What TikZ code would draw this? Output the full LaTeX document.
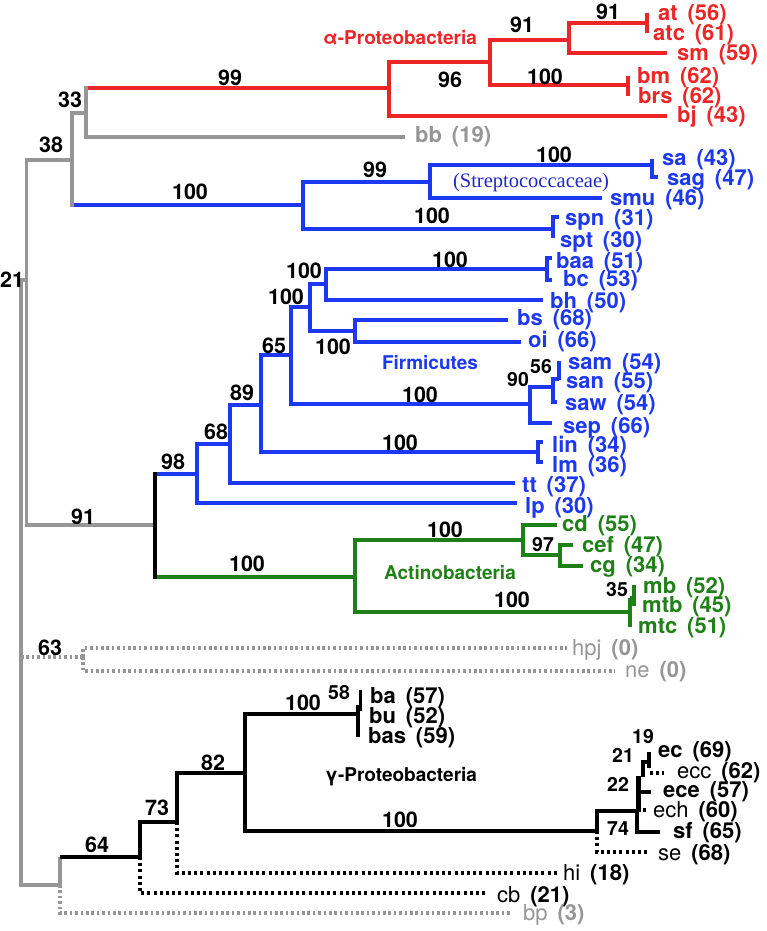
\documentclass[tikz,border=0pt]{standalone}
\usepackage{fontspec}
\setmainfont{TeX Gyre Heros}
\newfontfamily\cladeserif{Liberation Serif}
\usepackage{xcolor}
\usetikzlibrary{calc}
\definecolor{alphared}{RGB}{236,38,38}
\definecolor{firmblue}{RGB}{28,56,240}
\definecolor{strepblue}{RGB}{32,40,196}
\definecolor{actgreen}{RGB}{32,128,24}
\definecolor{outgray}{RGB}{150,150,150}

\begin{document}
\begin{tikzpicture}[
  x=1pt, y=-1pt,
  every node/.style={inner sep=0pt},
  br/.style={line width=3.2pt},
  rbr/.style={br, alphared},
  bbr/.style={br, firmblue},
  gbr/.style={br, actgreen},
  ybr/.style={br, outgray},
  kbr/.style={br, black},
  ydot/.style={ybr, dash pattern=on 2.6pt off 2.8pt},
  kdot/.style={kbr, dash pattern=on 3pt off 3.2pt},
  boot/.style={font=\bfseries\fontsize{21.5}{21.5}\selectfont},
  bootsm/.style={font=\bfseries\fontsize{19.5}{19.5}\selectfont},
  leaf/.style={anchor=west, font=\bfseries\fontsize{22}{22}\selectfont},
  clade/.style={font=\bfseries\fontsize{19}{19}\selectfont},
]
  \useasboundingbox (0,0) rectangle (767,931);

  % Root and outgroups
  \coordinate (root) at (21,657);
  \coordinate (n21) at (26.5,280);
  \coordinate (n38) at (72,160);
  \coordinate (n33) at (86,113);
  \coordinate (bb) at (405,137);
  \coordinate (n63) at (83,657);
  \coordinate (hpj) at (567,648);
  \coordinate (ne) at (615,671);
  \coordinate (nbot) at (60,885);
  \coordinate (bp) at (512,913);
  \coordinate (n98) at (155,525);

  % alpha-Proteobacteria
  \coordinate (a99) at (389,88);
  \coordinate (a96) at (490,62);
  \coordinate (bj) at (667,116);
  \coordinate (a91) at (569,40);
  \coordinate (bmbrs) at (628,85);
  \coordinate (atatc) at (647,23);
  \coordinate (sm) at (667,53);

  % Streptococcaceae
  \coordinate (s99) at (303,205);
  \coordinate (s100) at (430,182);
  \coordinate (sasag) at (652,165);
  \coordinate (smu) at (602,198);
  \coordinate (spnspt) at (553,229);

  % Firmicutes
  \coordinate (f68) at (197,474);
  \coordinate (lp) at (517,503);
  \coordinate (f89) at (230,444);
  \coordinate (tt) at (515,483);
  \coordinate (f65) at (261,405);
  \coordinate (linlm) at (538,452);
  \coordinate (f100a) at (291,355);
  \coordinate (f90) at (530,404);
  \coordinate (f100b) at (310,307);
  \coordinate (f100c) at (326,284);
  \coordinate (bsoi) at (355,331);
  \coordinate (baabc) at (547,269);
  \coordinate (bh) at (543,300);
  \coordinate (bs) at (508,320);
  \coordinate (oi) at (521,342);
  \coordinate (f56) at (553,387);
  \coordinate (sep) at (552,423);
  \coordinate (samsan) at (559,379);
  \coordinate (saw) at (557,402);

  % Actinobacteria
  \coordinate (act) at (355,577);
  \coordinate (c100) at (523,540);
  \coordinate (mtick) at (630,612);
  \coordinate (cd) at (557,525);
  \coordinate (c97) at (560,555);
  \coordinate (cef) at (573,545);
  \coordinate (cg) at (583,566);

  % gamma-Proteobacteria
  \coordinate (g64) at (140,857);
  \coordinate (cb) at (487,893);
  \coordinate (g73) at (177,822);
  \coordinate (hi) at (557,873);
  \coordinate (g82) at (245,773);
  \coordinate (batick) at (358,714);
  \coordinate (g74) at (597,831);
  \coordinate (se) at (647,852);
  \coordinate (g22) at (637,811);
  \coordinate (sf) at (660,832);

  % Branches: outgroups
  \draw[ydot] (root) -- (n63);
  \draw[ydot] (n63) |- (hpj);
  \draw[ydot] (n63) |- (ne);
  \draw[ydot] (nbot) |- (bp);
  \draw[ybr] (root) |- (n21);
  \draw[ybr] (root) |- (nbot);
  \draw[ybr] (n21) |- (n38);
  \draw[ybr] (n21) |- (n98);
  \draw[ybr] (n38) |- (n33);
  \draw[bbr] (n38 |- s99) -- (s99);
  \draw[ybr, line cap=rect] (n38 |- n33) -- (n38 |- s99);
  \draw[rbr] (n33 |- a99) -- (a99);
  \draw[ybr] (n33 |- bb) -- (bb);
  \draw[ybr, line cap=rect] (n33 |- a99) -- (n33 |- bb);

  % Branches: alpha
  \draw[rbr] (a99) |- (a96);
  \draw[rbr] (a99) |- (bj);
  \draw[rbr] (a96) |- (a91);
  \draw[rbr] (a96) |- (bmbrs);
  \draw[rbr] (a91) |- (atatc);
  \draw[rbr] (a91) |- (sm);
  \draw[rbr] (atatc) ++(0,-10) -- ++(0,20);
  \draw[rbr] (bmbrs) ++(0,-9) -- ++(0,20);

  % Branches: Streptococcaceae
  \draw[bbr] (s99) |- (s100);
  \draw[bbr] (s99) |- (spnspt);
  \draw[bbr] (s100) |- (sasag);
  \draw[bbr] (s100) |- (smu);
  \draw[bbr] (sasag) ++(0,-6) -- ++(0,18) -- ++(6,0);
  \draw[bbr] (spnspt) ++(6,-12) -- ++(-6,0) -- ++(0,21);

  % Branches: Firmicutes / Actinobacteria split
  \draw[bbr] (n98 |- f68) -- (f68);
  \draw[gbr] (n98 |- act) -- (act);
  \draw[kbr, line cap=rect] (n98 |- f68) -- (n98 |- act);

  % Branches: Firmicutes
  \draw[bbr] (f68) |- (f89);
  \draw[bbr] (f68) |- (lp);
  \draw[bbr] (f89) |- (f65);
  \draw[bbr] (f89) |- (tt);
  \draw[bbr] (f65) |- (f100a);
  \draw[bbr] (f65) |- (linlm);
  \draw[bbr] (f100a) |- (f100b);
  \draw[bbr] (f100a) |- (f90);
  \draw[bbr] (f100b) |- (f100c);
  \draw[bbr] (f100b) |- (bsoi);
  \draw[bbr] (f100c) |- (baabc);
  \draw[bbr] (f100c) |- (bh);
  \draw[bbr] (bsoi) |- (bs);
  \draw[bbr] (bsoi) |- (oi);
  \draw[bbr] (f90) |- (f56);
  \draw[bbr] (f90) |- (sep);
  \draw[bbr] (f56) |- (samsan);
  \draw[bbr] (f56) |- (saw);
  \draw[bbr] (samsan) ++(0,1) -- ++(0,-19);
  \draw[bbr] (baabc) ++(5,-11) -- ++(-5,0) -- ++(0,22) -- ++(5,0);
  \draw[bbr] (linlm) ++(5,-10) -- ++(-5,0) -- ++(0,20) -- ++(5,0);

  % Branches: Actinobacteria
  \draw[gbr] (act) |- (c100);
  \draw[gbr] (act) |- (mtick);
  \draw[gbr] (c100) |- (cd);
  \draw[gbr] (c100) |- (c97);
  \draw[gbr] (c97) |- (cef);
  \draw[gbr] (c97) |- (cg);
  \draw[gbr] (mtick) ++(0,-14) -- ++(0,29);
  \draw[gbr] (mtick) ++(0,-14) -- ++(4,0);
  \draw[gbr] (mtick) ++(4,-27) -- ++(0,21);

  % Branches: gamma
  \draw[ybr] (nbot) -- (nbot |- g64);
  \draw[kbr] (nbot |- g64) -- (g64);
  \draw[kdot] (g64) |- (cb);
  \draw[kbr] (g64) |- (g73);
  \draw[kdot] (g73) |- (hi);
  \draw[kbr] (g73) |- (g82);
  \draw[kbr] (g82) |- (batick);
  \draw[kbr] (g82) |- (g74);
  \draw[kbr] (batick) ++(0,-9) -- ++(0,32);
  \draw[kbr] (batick) ++(2.5,-24) -- ++(0,21);
  \draw[kdot] (g74) |- (se);
  \draw[kbr] (g74) |- (g22);
  \draw[kbr] (g22) |- (sf);
  \draw[kbr, line width=5.5pt] (g22) ++(1.5,1) -- ++(0,-36);
  \draw[kbr] (g22) ++(2,-19) -- ++(12,0);
  \draw[kbr] (g22) ++(6,-1) -- ++(3,0);
  \draw[kbr] (g22) ++(6,-34) -- ++(0,-15) -- ++(6,0);
  \draw[kbr] (g22) ++(12,-59) -- ++(0,16);
  \draw[kdot] (g22) ++(13,-38) -- ++(14,0);

  % Bootstrap values
  \node[boot] (bsA91b) at (608,12) {91};
  \node[boot] (bsA91a) at (522,25) {91};
  \node[boot] (bsA96) at (450,80) {96};
  \node[boot] (bsA100) at (545,77) {100};
  \node[boot] (bsA99) at (230,78) {99};
  \node[boot] (bs33) at (70,100) {33};
  \node[boot] (bs38) at (51,145) {38};
  \node[boot] (bs21) at (12,280) {21};
  \node[boot] (bsS100a) at (190,192) {100};
  \node[boot] (bsS99) at (375,170) {99};
  \node[boot] (bsS100b) at (554,155) {100};
  \node[boot] (bsS100c) at (432,216) {100};
  \node[boot] (bsF100a) at (304,271) {100};
  \node[boot] (bsF100b) at (286,297) {100};
  \node[boot] (bsF100c) at (450,260) {100};
  \node[boot] (bsF100d) at (333,347) {100};
  \node[boot] (bsF65) at (274,346) {65};
  \node[boot] (bsF89) at (242,393) {89};
  \node[boot] (bsF68) at (216,432) {68};
  \node[boot] (bsF98) at (173,462) {98};
  \node[boot] (bs91) at (83,517) {91};
  \node[boot] (bsF100e) at (420,395) {100};
  \node[bootsm] (bsF90) at (518,380) {90};
  \node[bootsm] (bsF56) at (541,367) {56};
  \node[boot] (bsF100f) at (400,443) {100};
  \node[boot] (bsC100a) at (247,564) {100};
  \node[boot] (bsC100b) at (445,530) {100};
  \node[bootsm] (bsC97) at (543,545) {97};
  \node[boot] (bsC100c) at (512,600) {100};
  \node[bootsm] (bsC35) at (617,590) {35};
  \node[boot] (bs63) at (50,648) {63};
  \node[boot] (bsG64) at (97,845) {64};
  \node[boot] (bsG73) at (157,808) {73};
  \node[boot] (bsG82) at (213,763) {82};
  \node[boot] (bsG100a) at (303,703) {100};
  \node[bootsm] (bsG58) at (339,693) {58};
  \node[boot] (bsG100b) at (400,820) {100};
  \node[bootsm] (bsG74) at (618,829) {74};
  \node[bootsm] (bsG22) at (618,784) {22};
  \node[bootsm] (bsG21) at (623,755) {21};
  \node[bootsm] (bsG19) at (643,737) {19};

  % Clade names
  \node[clade, alphared] (alpha) at (400,38) {α-Proteobacteria};
  \node[strepblue, font=\cladeserif\fontsize{20.5}{20.5}\selectfont] (strep) at (531,183) {(Streptococcaceae)};
  \node[clade, firmblue] (firm) at (430,363) {Firmicutes};
  \node[clade, actgreen] (actino) at (450,573) {Actinobacteria};
  \node[clade, black] (gamma) at (401,777) {γ-Proteobacteria};

  % Leaf labels
  \node[leaf, alphared] (lat) at (658,15) {at\hspace{.45em}(56)};
  \node[leaf, alphared] (latc) at (653,35) {atc\hspace{.45em}(61)};
  \node[leaf, alphared] (lsm) at (677,55) {sm\hspace{.45em}(59)};
  \node[leaf, alphared] (lbm) at (637,78) {bm\hspace{.45em}(62)};
  \node[leaf, alphared] (lbrs) at (638,98) {brs\hspace{.45em}(62)};
  \node[leaf, alphared] (lbj) at (677,117) {bj\hspace{.45em}(43)};
  \node[leaf, outgray] (lbb) at (415,137) {bb\hspace{.45em}(19)};
  \node[leaf, firmblue] (lsa) at (662,160) {sa\hspace{.45em}(43)};
  \node[leaf, firmblue] (lsag) at (667,180) {sag\hspace{.45em}(47)};
  \node[leaf, firmblue] (lsmu) at (610,200) {smu\hspace{.45em}(46)};
  \node[leaf, firmblue] (lspn) at (565,220) {spn\hspace{.45em}(31)};
  \node[leaf, firmblue] (lspt) at (560,242) {spt\hspace{.45em}(30)};
  \node[leaf, firmblue] (lbaa) at (556,263) {baa\hspace{.45em}(51)};
  \node[leaf, firmblue] (lbc) at (563,281) {bc\hspace{.45em}(53)};
  \node[leaf, firmblue] (lbh) at (550,303) {bh\hspace{.45em}(50)};
  \node[leaf, firmblue] (lbs) at (517,320) {bs\hspace{.45em}(68)};
  \node[leaf, firmblue] (loi) at (528,342) {oi\hspace{.45em}(66)};
  \node[leaf, firmblue] (lsam) at (568,364) {sam\hspace{.45em}(54)};
  \node[leaf, firmblue] (lsan) at (566,383) {san\hspace{.45em}(55)};
  \node[leaf, firmblue] (lsaw) at (565,405) {saw\hspace{.45em}(54)};
  \node[leaf, firmblue] (lsep) at (563,428) {sep\hspace{.45em}(66)};
  \node[leaf, firmblue] (llin) at (552,447) {lin\hspace{.45em}(34)};
  \node[leaf, firmblue] (llm) at (552,467) {lm\hspace{.45em}(36)};
  \node[leaf, firmblue] (ltt) at (522,487) {tt\hspace{.45em}(37)};
  \node[leaf, firmblue] (llp) at (525,508) {lp\hspace{.45em}(30)};
  \node[leaf, actgreen] (lcd) at (562,526) {cd\hspace{.45em}(55)};
  \node[leaf, actgreen] (lcef) at (582,547) {cef\hspace{.45em}(47)};
  \node[leaf, actgreen] (lcg) at (590,567) {cg\hspace{.45em}(34)};
  \node[leaf, actgreen] (lmb) at (643,588) {mb\hspace{.45em}(52)};
  \node[leaf, actgreen] (lmtb) at (642,607) {mtb\hspace{.45em}(45)};
  \node[leaf, actgreen] (lmtc) at (638,628) {mtc\hspace{.45em}(51)};
  \node[leaf, outgray] (lhpj) at (572,650) {{\mdseries hpj}\hspace{.45em}(0)};
  \node[leaf, outgray] (lne) at (625,672) {{\mdseries ne}\hspace{.45em}(0)};
  \node[leaf] (lba) at (370,698) {ba\hspace{.45em}(57)};
  \node[leaf] (lbu) at (369,718) {bu\hspace{.45em}(52)};
  \node[leaf] (lbas) at (368,738) {bas\hspace{.45em}(59)};
  \node[leaf] (lec) at (658,752) {ec\hspace{.45em}(69)};
  \node[leaf] (lecc) at (677,773) {{\mdseries ecc}\hspace{.45em}(62)};
  \node[leaf] (lece) at (663,792) {ece\hspace{.45em}(57)};
  \node[leaf] (lech) at (653,812) {{\mdseries ech}\hspace{.45em}(60)};
  \node[leaf] (lsf) at (673,833) {sf\hspace{.45em}(65)};
  \node[leaf] (lse) at (658,855) {{\mdseries se}\hspace{.45em}(68)};
  \node[leaf] (lhi) at (563,875) {{\mdseries hi}\hspace{.45em}(18)};
  \node[leaf] (lcb) at (497,897) {{\mdseries cb}\hspace{.45em}(21)};
  \node[leaf, outgray] (lbp) at (523,915) {{\mdseries bp}\hspace{.45em}(3)};
\end{tikzpicture}
\end{document}
